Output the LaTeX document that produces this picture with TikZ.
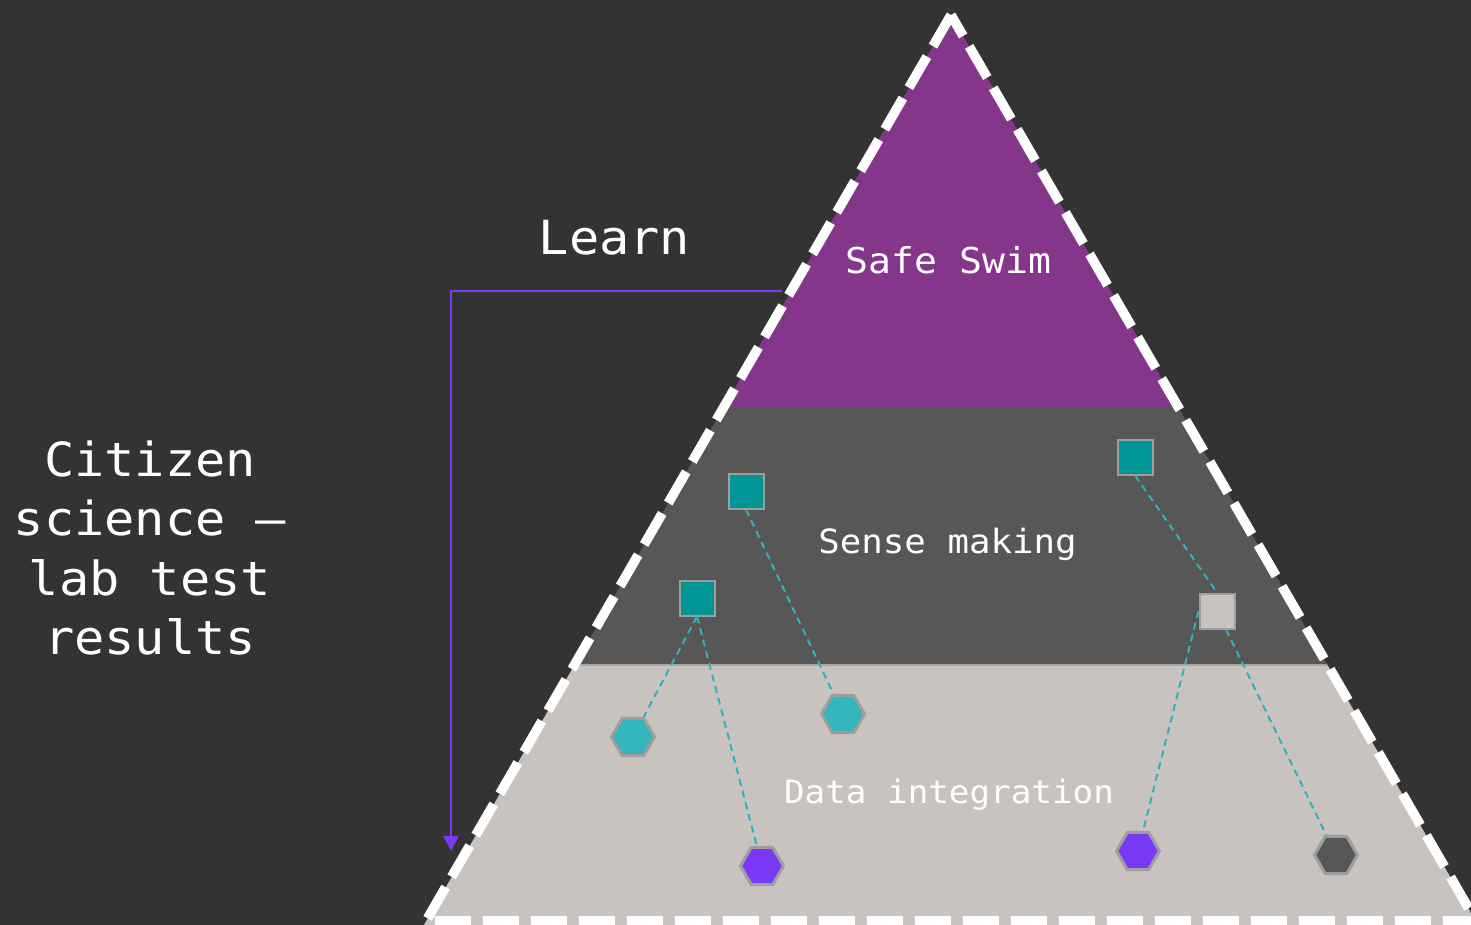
\documentclass[tikz,border=0pt]{standalone}
\usepackage{fontspec}
\setmainfont[FakeStretch=1.07]{DejaVu Sans Mono}
\usepackage{tikz}
\usetikzlibrary{arrows.meta,shapes.geometric,positioning}

\definecolor{cBg}{HTML}{333333}
\definecolor{cSafe}{HTML}{84378A}
\definecolor{cSense}{HTML}{575757}
\definecolor{cData}{HTML}{C9C3C0}
\definecolor{cSep}{HTML}{A9A5A3}
\definecolor{cEdge}{HTML}{9E9E9E}
\definecolor{cTeal}{HTML}{009696}
\definecolor{cTealL}{HTML}{33B5BB}
\definecolor{cViolet}{HTML}{7A3AF5}
\definecolor{cLink}{HTML}{2DB3BA}
\definecolor{cLearn}{HTML}{7B3AED}

\begin{document}
\begin{tikzpicture}[x=0.5pt,y=-0.5pt,
    sq/.style={draw=cEdge,line width=1pt,minimum size=17.5pt,inner sep=0pt},
    hx/.style={regular polygon,regular polygon sides=6,draw=cEdge,line width=1.5pt,minimum size=21.5pt,inner sep=0pt},
    link/.style={draw=cLink,line width=1pt,dash pattern=on 3.5pt off 2.5pt},
    lbl/.style={text=white,anchor=base,inner sep=0pt},
    big/.style={lbl,font=\fontsize{23.5}{29.75}\selectfont}]
    \fill[cBg] (0,0) rectangle (1471,925);
    \useasboundingbox (0,0) rectangle (1471,925);
    \clip (0,0) rectangle (1471,925);
    % pyramid bands
    \begin{scope}
      \clip (951,15) -- (421,930) -- (1481,930) -- cycle;
      \fill[cSafe] (0,0) rectangle (1471,407);
      \fill[cSense] (0,407) rectangle (1471,665);
      \fill[cData] (0,665) rectangle (1471,930);
      \draw[cSep,line width=0.8pt] (0,665) -- (1471,665);
    \end{scope}
    % learn loop
    \coordinate (lrn0) at (782,291);
    \coordinate (lrn1) at (451,851);
    \draw[cLearn,line width=1.2pt,-{Triangle[width=7.5pt,length=7.5pt]}] (lrn0) -| (lrn1);
    \draw[white,line width=4.8pt,dash pattern=on 18pt off 6pt] (951,15) -- (426,921) -- (1476,921) -- cycle;
    \node[sq,fill=cTeal] at (746,491) (sq1) {};
    \node[sq,fill=cTeal] at (697,598) (sq2) {};
    \node[sq,fill=cTeal] at (1135,457) (sq3) {};
    \node[sq,fill=cData] at (1217,611) (sq4) {};
    \node[hx,fill=cTealL] at (633,737) (hx1) {};
    \node[hx,fill=cTealL] at (843,714) (hx2) {};
    \node[hx,fill=cViolet] at (762,866) (hx3) {};
    \node[hx,fill=cViolet] at (1138,851) (hx4) {};
    \node[hx,fill=cSense] at (1336,855) (hx5) {};
    \draw[link] (sq1.south) edge (hx2);
    \draw[link] (sq2.south) edge (hx1);
    \draw[link] (sq2.south) edge (hx3);
    \draw[link] (sq3.south) edge (sq4.north);
    \draw[link] (sq4.west) edge (hx4);
    \draw[link] (sq4) edge (hx5);
    \node[lbl,font=\fontsize{17.8}{20}\selectfont] at (948.5,273) (safe) {Safe Swim};
    \node[lbl,font=\fontsize{16.7}{20}\selectfont] at (947.5,553) (sense) {Sense making};
    \node[lbl,font=\fontsize{16}{20}\selectfont] at (949,803) (data) {Data integration};
    \node[big] at (614.5,255) (learn) {Learn};
    \node[big,align=center] at (150,654.5) (cit) {Citizen\\science –\\lab test\\results};
  \end{tikzpicture}
\end{document}
